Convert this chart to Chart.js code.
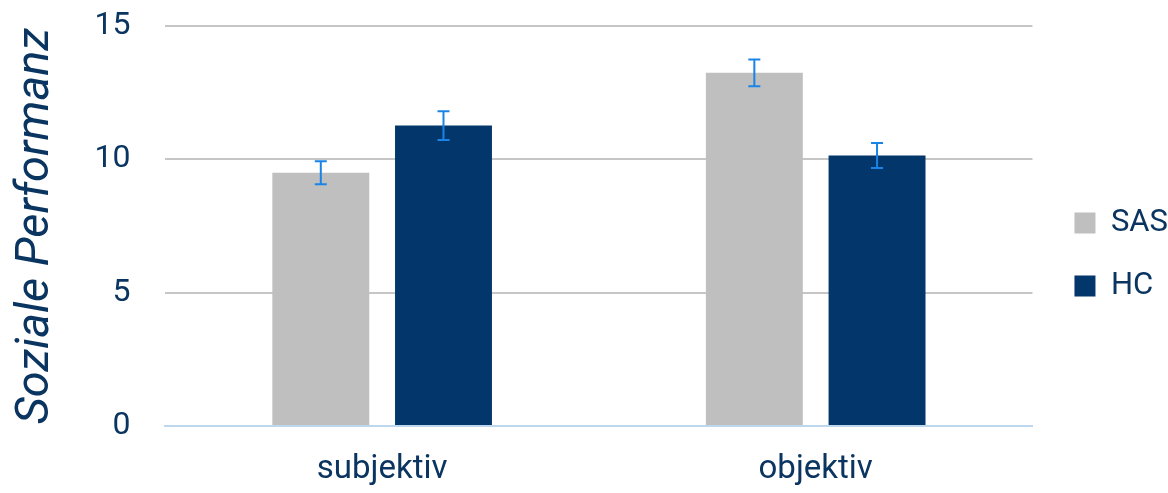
<!DOCTYPE html>
<html>
<head>
<meta charset="utf-8">
<script src="https://cdn.jsdelivr.net/npm/chart.js@4"></script>
<style>
  html, body { margin: 0; padding: 0; background: #fff; }
  #wrap { width: 1168px; height: 493px; }
</style>
</head>
<body>
<div id="wrap"><canvas id="myChart" width="1168" height="493"></canvas></div>
<script>
const labels = ['subjektiv', 'objektiv'];
const sasValues = [9.5, 13.25];
const hcValues = [11.27, 10.15];
const sasErrors = [0.43, 0.5];
const hcErrors = [0.54, 0.47];

const navy = '#0b3561';

// draws the error whiskers through the y scale
const errorBars = {
  id: 'errorBars',
  afterDatasetsDraw(chart) {
    const ctx = chart.ctx;
    const y = chart.scales.y;
    chart.data.datasets.forEach((ds, i) => {
      const meta = chart.getDatasetMeta(i);
      meta.data.forEach((bar, j) => {
        const v = ds.data[j];
        const e = ds.errors[j];
        const top = y.getPixelForValue(v + e);
        const bot = y.getPixelForValue(v - e);
        ctx.save();
        ctx.strokeStyle = '#1a84e6';
        ctx.lineWidth = 2;
        ctx.beginPath();
        ctx.moveTo(bar.x, top);
        ctx.lineTo(bar.x, bot);
        ctx.moveTo(bar.x - 6, top);
        ctx.lineTo(bar.x + 6, top);
        ctx.moveTo(bar.x - 6, bot);
        ctx.lineTo(bar.x + 6, bot);
        ctx.stroke();
        ctx.restore();
      });
    });
  }
};

// nudge the legend a bit, like the original
const legendShift = {
  id: 'legendShift',
  afterLayout(chart) {
    chart.legend.left += 10;
    chart.legend.right += 10;
    chart.legend.top += 8;
    chart.legend.bottom += 8;
  }
};

const data = {
  labels,
  datasets: [
    {
      label: 'SAS',
      data: sasValues,
      errors: sasErrors,
      backgroundColor: '#bfbfbf',
      categoryPercentage: 0.566,
      barPercentage: 0.79,
    },
    {
      label: 'HC',
      data: hcValues,
      errors: hcErrors,
      backgroundColor: '#03376b',
      categoryPercentage: 0.566,
      barPercentage: 0.79,
    },
  ],
};

const config = {
  type: 'bar',
  data: data,
  options: {
    responsive: false,
    animation: false,
    layout: { padding: { top: 0, right: 0, left: 8, bottom: 0 } },
    plugins: {
      tooltip: { enabled: false },
      legend: {
        position: 'right',
        maxWidth: 140,
        labels: {
          color: navy,
          font: { family: 'Roboto', size: 31 },
          boxWidth: 21,
          boxHeight: 21,
          padding: 32,
        },
      },
    },
    scales: {
      x: {
        grid: { display: false },
        border: { color: '#bdd7ee', width: 2 },
        ticks: {
          color: navy,
          font: { family: 'Roboto', size: 33 },
          padding: 16,
        },
        afterFit(scale) {
          scale.height = 67;
        },
      },
      y: {
        min: 0,
        max: 15,
        border: { display: false },
        grid: {
          color: (c) => c.tick && c.tick.value === 0 ? 'rgba(0,0,0,0)' : '#c6c6c6',
          lineWidth: 2,
          drawTicks: true,
          tickLength: 28,
          tickColor: 'rgba(0,0,0,0)',
        },
        ticks: {
          stepSize: 5,
          color: navy,
          font: { family: 'Roboto', size: 32 },
          padding: 7,
        },
        title: {
          display: true,
          text: 'Soziale Performanz',
          color: navy,
          font: { family: 'Roboto', size: 47, style: 'italic' },
          padding: { top: 0, bottom: 23 },
        },
      },
    },
  },
  plugins: [errorBars, legendShift],
};

const myChart = new Chart(document.getElementById('myChart').getContext('2d'), config);
</script>
</body>
</html>
